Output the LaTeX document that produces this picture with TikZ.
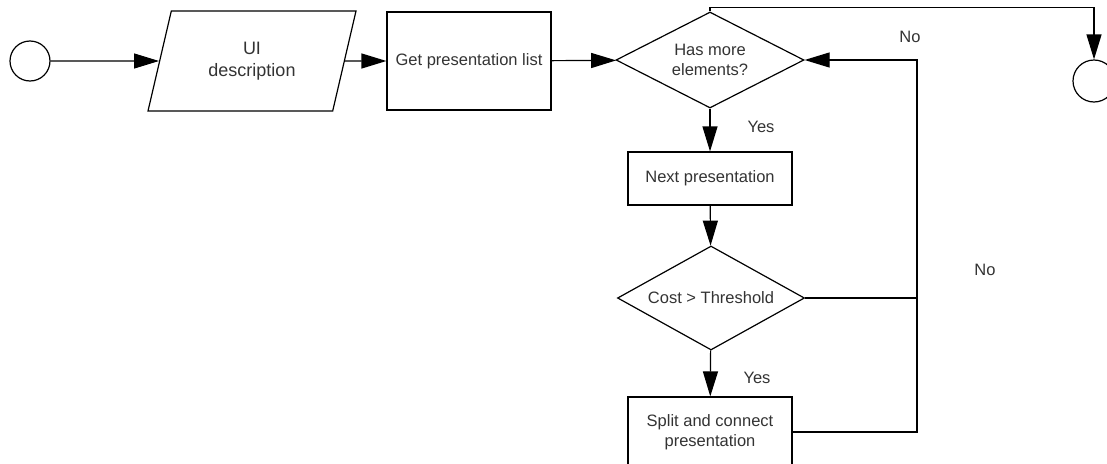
\documentclass[tikz,border=0pt]{standalone}
\usepackage{fontspec}
\setmainfont{Liberation Sans}
\usetikzlibrary{shapes.geometric,arrows.meta}

\begin{document}
\begin{tikzpicture}[x=1pt,y=-1pt,line width=1.2pt,
    >={Triangle[length=25pt,width=15pt]},
    txt/.style={text=black!80,font=\fontsize{16.5}{20}\selectfont},
    endpoint/.style={draw,circle,inner sep=0pt},
    box/.style={txt,draw,rectangle,minimum width=164pt,align=center},
    io/.style={txt,draw,trapezium,trapezium left angle=62.5,trapezium right angle=117.5,
        trapezium stretches body,minimum width=208pt,minimum height=100pt,align=center},
    test/.style={txt,draw,diamond,aspect=2,inner sep=0pt,align=center}]
\useasboundingbox (0,0) rectangle (1107,463);
\clip (0,0) rectangle (1107,463);

\node[endpoint,minimum size=40pt] (start) at (30,61) {};
\node[io,font=\fontsize{18}{22}\selectfont] (ui) at (252,61) {UI\\description};
\node[box,minimum height=98pt] (list) at (469,61) {Get presentation list};
\node[test,minimum width=188pt,minimum height=96pt] (more) at (710,60) {Has more\\elements?};
\node[endpoint,minimum size=42pt] (stop) at (1094,81) {};
\node[box,minimum height=53pt] (next) at (710,178.5) {Next presentation};
\node[test,minimum width=187pt,minimum height=104pt] (cost) at (711,298) {Cost > Threshold};
\node[box,minimum height=70pt] (split) at (710,432) {Split and connect\\presentation};
\coordinate (back) at (917,60);

\draw[->] (start) -- (ui);
\draw[->] (ui) -- (list);
\draw[->] (list) -- (more);
\draw[->] (more.north) -- ++(0,-4) -| (stop);
\draw[->] (more) -- (next);
\draw[->] (next) -- (cost);
\draw[->] (cost) -- (split);
\draw[->] (split.east) -| (back) -- (more.east);
\draw (cost.east) -- (cost.east -| back);

\node[txt] (no1) at (910,37) {No};
\node[txt] (yes1) at (761,127) {Yes};
\node[txt] (no2) at (985,270) {No};
\node[txt] (yes2) at (757,378) {Yes};
\end{tikzpicture}
\end{document}
